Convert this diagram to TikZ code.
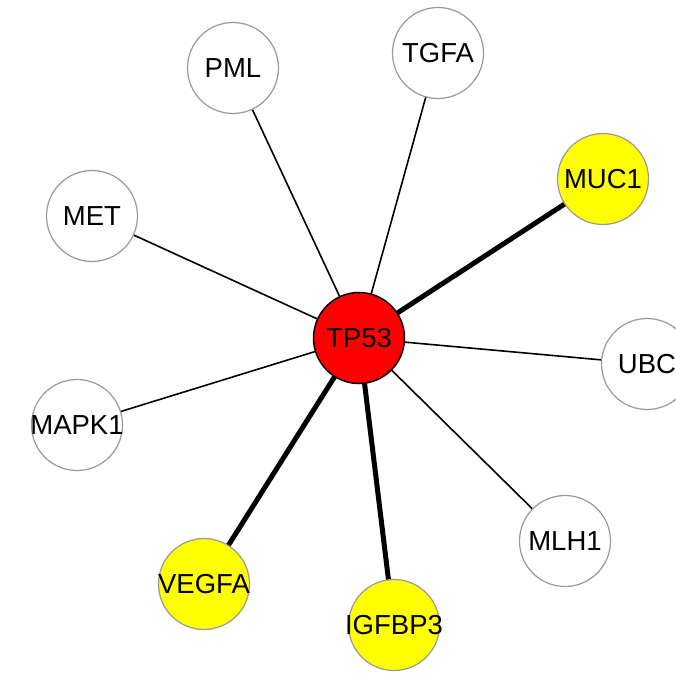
\documentclass[tikz,border=0pt]{standalone}
\usepackage{fontspec}
\setmainfont{Liberation Sans}
\usepackage{tikz}
\usetikzlibrary{backgrounds}

\definecolor{hityellow}{RGB}{255,255,0}
\definecolor{hubred}{RGB}{255,0,0}

% gene names may run past the circle, keep the circle fixed
\newcommand{\gname}[1]{\makebox[0pt]{#1}}

\tikzset{
  gene/.style={circle, draw=gray!80, line width=1.2pt, fill=white,
    minimum size=91pt, inner sep=0pt, font=\fontsize{27.5}{32}\selectfont},
  hit/.style={gene, fill=hityellow},
  hub/.style={gene, draw=black, line width=1.5pt, fill=hubred},
  thin/.style={line width=1.6pt},
  thick/.style={line width=5pt}
}

\begin{document}
\begin{tikzpicture}[x=1pt,y=-1pt]
  \useasboundingbox (0,0) rectangle (675,676);

  \node[hub]  (TP53)   at (359,338) {\gname{TP53}};
  \node[gene] (PML)    at (233,68)  {\gname{PML}};
  \node[gene] (TGFA)   at (438,53)  {\gname{TGFA}};
  \node[hit]  (MUC1)   at (603,179) {\gname{MUC1}};
  \node[gene] (MET)    at (92,216)  {\gname{MET}};
  \node[gene] (UBC)    at (647,364) {\gname{UBC}};
  \node[gene] (MAPK1)  at (77,425)  {\gname{MAPK1}};
  \node[gene] (MLH1)   at (565,541) {\gname{MLH1}};
  \node[hit]  (VEGFA)  at (204,584) {\gname{VEGFA}};
  \node[hit]  (IGFBP3) at (394,625) {\gname{IGFBP3}};

  \begin{pgfonlayer}{background}
    \foreach \g in {PML,TGFA,MET,UBC,MAPK1,MLH1}
      \draw[thin] (TP53.center) -- (\g.center);
    \foreach \g in {MUC1,VEGFA,IGFBP3}
      \draw[thick] (TP53.center) -- (\g.center);
  \end{pgfonlayer}
\end{tikzpicture}
\end{document}
